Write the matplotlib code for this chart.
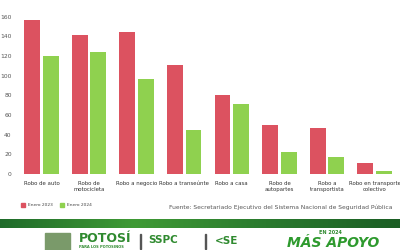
import matplotlib.pyplot as plt
import numpy as np
from matplotlib.colors import LinearSegmentedColormap

categories = ["Robo de auto", "Robo de\nmotocicleta", "Robo a negocio", "Robo a transeúnte",
              "Robo a casa", "Robo de\nautopartes", "Robo a\ntransportista",
              "Robo en transporte\ncolectivo"]
enero_2023 = [157, 141, 144, 111, 80, 50, 47, 11]
enero_2024 = [120, 124, 97, 45, 71, 22, 17, 3]
yticks = [0, 20, 40, 60, 80, 100, 120, 140, 160]

RED = "#dc5260"
GREEN = "#8fd14f"

fig = plt.figure(figsize=(4, 2.5), dpi=100)
ax = fig.add_axes([0.05, 0.304, 0.94, 0.696])

x = np.arange(len(categories))
w = 0.33
ax.bar(x - w / 2 - 0.03, enero_2023, w, color=RED)
ax.bar(x + w / 2 + 0.03, enero_2024, w, color=GREEN)

ax.set_xlim(-0.45, 7.45)
ax.set_ylim(0, 177)
ax.set_yticks(yticks)
ax.set_xticks(x)
ax.set_xticklabels(categories, fontsize=3.9, color="#333333", linespacing=1.35)
ax.tick_params(axis="y", labelsize=4.3, colors="#555555", length=0, pad=6)
ax.tick_params(axis="x", length=0, pad=5)
for s in ax.spines.values():
    s.set_visible(False)

# legend
fig.patches.append(plt.Rectangle((21 / 400, 1 - 207 / 250), 4 / 400, 4 / 250,
                                 transform=fig.transFigure, color=RED))
fig.text(28 / 400, 1 - 205 / 250, "Enero 2023", fontsize=3.2, color="#444444", va="center")
fig.patches.append(plt.Rectangle((60 / 400, 1 - 207 / 250), 4 / 400, 4 / 250,
                                 transform=fig.transFigure, color=GREEN))
fig.text(67 / 400, 1 - 205 / 250, "Enero 2024", fontsize=3.2, color="#444444", va="center")

fig.text(392 / 400, 1 - 207 / 250,
         "Fuente: Secretariado Ejecutivo del Sistema Nacional de Seguridad Pública",
         fontsize=4.3, color="#555555", ha="right", va="center")

# green band
band = fig.add_axes([0, 1 - 228 / 250, 1, 9 / 250])
grad = np.linspace(0, 1, 256).reshape(1, -1)
cmap = LinearSegmentedColormap.from_list("g", ["#1f6b2a", "#3f9a35", "#2a7a2e", "#1b5e24"])
band.imshow(grad, aspect="auto", cmap=cmap)
band.axis("off")

# logos (text approximations)
fig.patches.append(plt.Rectangle((45 / 400, 1 - 250 / 250), 25 / 400, 17 / 250,
                                 transform=fig.transFigure, color="#7a9a6a"))
fig.text(79 / 400, 1 - 239 / 250, "POTOSÍ", fontsize=9, fontweight="bold",
         color="#2f8a2f", va="center")
fig.text(79 / 400, 1 - 247 / 250, "PARA LOS POTOSINOS", fontsize=2.6, fontweight="bold",
         color="#2f8a2f", va="center")
fig.patches.append(plt.Rectangle((140 / 400, 1 - 249 / 250), 0.6 / 400, 15 / 250,
                                 transform=fig.transFigure, color="#555555"))
fig.text(148 / 400, 1 - 240 / 250, "SSPC", fontsize=7.5, fontweight="bold",
         color="#2f8a2f", va="center")
fig.patches.append(plt.Rectangle((205 / 400, 1 - 249 / 250), 0.6 / 400, 15 / 250,
                                 transform=fig.transFigure, color="#555555"))
fig.text(215 / 400, 1 - 241 / 250, "<SE", fontsize=7.5, fontweight="bold",
         color="#2f8a2f", va="center")
fig.text(330 / 400, 1 - 233 / 250, "EN 2024", fontsize=3.5, fontweight="bold",
         color="#2f8a2f", ha="center", va="center")
fig.text(333 / 400, 1 - 243 / 250, "MÁS APOYO", fontsize=10, fontweight="bold",
         fontstyle="italic", color="#2e9a2e", ha="center", va="center")

fig.savefig("out.png", dpi=100, facecolor="white")
